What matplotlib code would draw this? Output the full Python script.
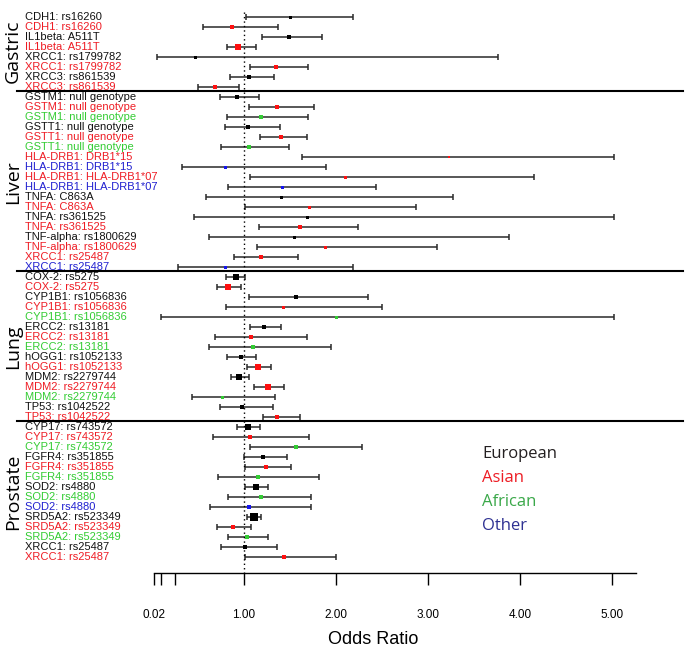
import matplotlib.pyplot as plt

plt.rcParams['font.family'] = ['Liberation Sans', 'DejaVu Sans']

groups = ["Gastric", "Liver", "Lung", "Prostate"]
group_sizes = [8, 18, 15, 14]

labels = [
    # Gastric
    "CDH1: rs16260", "CDH1: rs16260", "IL1beta: A511T", "IL1beta: A511T",
    "XRCC1: rs1799782", "XRCC1: rs1799782", "XRCC3: rs861539", "XRCC3: rs861539",
    # Liver
    "GSTM1: null genotype", "GSTM1: null genotype", "GSTM1: null genotype",
    "GSTT1: null genotype", "GSTT1: null genotype", "GSTT1: null genotype",
    "HLA-DRB1: DRB1*15", "HLA-DRB1: DRB1*15",
    "HLA-DRB1: HLA-DRB1*07", "HLA-DRB1: HLA-DRB1*07",
    "TNFA: C863A", "TNFA: C863A", "TNFA: rs361525", "TNFA: rs361525",
    "TNF-alpha: rs1800629", "TNF-alpha: rs1800629",
    "XRCC1: rs25487", "XRCC1: rs25487",
    # Lung
    "COX-2: rs5275", "COX-2: rs5275",
    "CYP1B1: rs1056836", "CYP1B1: rs1056836", "CYP1B1: rs1056836",
    "ERCC2: rs13181", "ERCC2: rs13181", "ERCC2: rs13181",
    "hOGG1: rs1052133", "hOGG1: rs1052133",
    "MDM2: rs2279744", "MDM2: rs2279744", "MDM2: rs2279744",
    "TP53: rs1042522", "TP53: rs1042522",
    # Prostate
    "CYP17: rs743572", "CYP17: rs743572", "CYP17: rs743572",
    "FGFR4: rs351855", "FGFR4: rs351855", "FGFR4: rs351855",
    "SOD2: rs4880", "SOD2: rs4880", "SOD2: rs4880",
    "SRD5A2: rs523349", "SRD5A2: rs523349", "SRD5A2: rs523349",
    "XRCC1: rs25487", "XRCC1: rs25487",
]

# E = European, A = Asian, F = African, O = Other
ethnicity = [
    "E", "A", "E", "A", "E", "A", "E", "A",
    "E", "A", "F", "E", "A", "F", "A", "O", "A", "O",
    "E", "A", "E", "A", "E", "A", "A", "O",
    "E", "A", "E", "A", "F", "E", "A", "F", "E", "A", "E", "A", "F", "E", "A",
    "E", "A", "F", "E", "A", "F", "E", "F", "O", "E", "A", "F", "E", "A",
]

odds = [
    1.50, 0.87, 1.49, 0.94, 0.47, 1.35, 1.05, 0.68,
    0.92, 1.36, 1.18, 1.04, 1.40, 1.05, 3.23, 0.79, 2.10, 1.41,
    1.40, 1.71, 1.69, 1.61, 1.54, 1.88, 1.19, 0.79,
    0.91, 0.83, 1.57, 1.42, 2.00, 1.22, 1.08, 1.10, 0.97, 1.15, 0.95, 1.26, 0.76, 0.98, 1.36,
    1.04, 1.06, 1.56, 1.21, 1.24, 1.15, 1.13, 1.19, 1.05, 1.11, 0.88, 1.03, 1.01, 1.43,
]
lower = [
    1.02, 0.55, 1.20, 0.81, 0.05, 1.07, 0.85, 0.50,
    0.74, 1.05, 0.82, 0.79, 1.17, 0.75, 1.63, 0.33, 1.06, 0.83,
    0.59, 1.01, 0.46, 1.16, 0.62, 1.14, 0.89, 0.28,
    0.80, 0.71, 1.05, 0.80, 0.10, 1.06, 0.68, 0.62, 0.82, 1.03, 0.86, 1.11, 0.44, 0.74, 1.21,
    0.92, 0.66, 1.07, 1.00, 1.01, 0.72, 1.01, 0.83, 0.63, 1.03, 0.71, 0.83, 0.75, 1.01,
]
upper = [
    2.19, 1.37, 1.85, 1.13, 3.76, 1.70, 1.33, 0.95,
    1.16, 1.76, 1.70, 1.39, 1.68, 1.49, 5.02, 1.89, 4.15, 2.43,
    3.27, 2.87, 5.02, 2.24, 3.88, 3.10, 1.59, 2.19,
    1.01, 0.97, 2.35, 2.50, 5.02, 1.40, 1.68, 1.95, 1.13, 1.29, 1.05, 1.43, 1.34, 1.31, 1.61,
    1.17, 1.71, 2.28, 1.47, 1.51, 1.82, 1.26, 1.73, 1.73, 1.18, 1.08, 1.26, 1.36, 2.00,
]
# study weight, shown as the square size (pixels)
weight = [
    2, 3, 3.5, 4.5, 2, 3, 3.5, 3.5,
    4, 3, 3, 3, 3.5, 3, 1.5, 2, 2, 2,
    2, 2, 2, 2.5, 2, 2, 3, 2,
    5.5, 5, 2.5, 2, 2, 4, 2.5, 2.5, 3.5, 5, 5.5, 4.5, 2, 3, 4,
    5, 2.5, 2.5, 3.5, 4, 2.5, 5, 3, 2.5, 6.5, 4, 4, 3, 2.5,
]

legend_names = ["European", "Asian", "African", "Other"]

text_col = {"E": "#111111", "A": "#ee1c24", "F": "#33cc33", "O": "#2020d0"}
mark_col = {"E": "#000000", "A": "#ff1010", "F": "#33cc33", "O": "#1515ee"}
legend_col = ["#231f20", "#ed1c24", "#3aa849", "#2e3192"]

fig = plt.figure(figsize=(6.86, 6.55), dpi=100)
ax = fig.add_axes([0, 82 / 655, 1, 573 / 655])
ax.set_xlim(-1.652, 5.804)
ax.set_ylim(55.63, -1.67)

for i in range(len(labels)):
    e = ethnicity[i]
    ax.errorbar(odds[i], i, xerr=[[odds[i] - lower[i]], [upper[i] - odds[i]]],
                fmt='none', ecolor='#2a2a2a', elinewidth=1.1, capsize=2.3, capthick=1.1)
    ax.plot(odds[i], i, 's', color=mark_col[e], markersize=(weight[i] + 1) * 0.72,
            markeredgewidth=0, zorder=3)
    ax.text(0.0364, i, labels[i], transform=ax.get_yaxis_transform(),
            color=text_col[e], fontsize=8, va='center', ha='left')

# reference line at OR = 1
ax.plot([1, 1], [-0.47, 55.63], color='black', linestyle=(0, (1, 2.2)),
        linewidth=1, clip_on=False)

# group separators and group names
start = 0
for g, n in zip(groups, group_sizes):
    end = start + n - 1
    if g != groups[-1]:
        ax.axhline(end + 0.4, xmin=17 / 686, xmax=683 / 686, color='black', linewidth=1.5)
    ax.text(0.019, (start + end) / 2, g, transform=ax.get_yaxis_transform(),
            rotation=90, fontsize=14, family=['Open Sans', 'DejaVu Sans'],
            va='center', ha='center')
    start += n

for s in ['left', 'right', 'top']:
    ax.spines[s].set_visible(False)
ax.spines['bottom'].set_bounds(0.02, 5.26)
ax.spines['bottom'].set_linewidth(1)
ax.set_xticks([0.02, 0.1, 0.25, 1, 2, 3, 4, 5])
ax.set_xticklabels(["0.02", "", "", "1.00", "2.00", "3.00", "4.00", "5.00"])
ax.tick_params(axis='x', length=8.6, width=1, pad=17, labelsize=8.5)
ax.set_yticks([])

fig.text(373 / 686, 1 - 640 / 655, "Odds Ratio", fontsize=13, ha='center', va='center')

for k, name in enumerate(legend_names):
    fig.text(482 / 686, 1 - (454 + 24 * k) / 655, name, color=legend_col[k],
             fontsize=12, family=['Open Sans', 'DejaVu Sans'], ha='left', va='center')

fig.savefig("out.png", dpi=100)
